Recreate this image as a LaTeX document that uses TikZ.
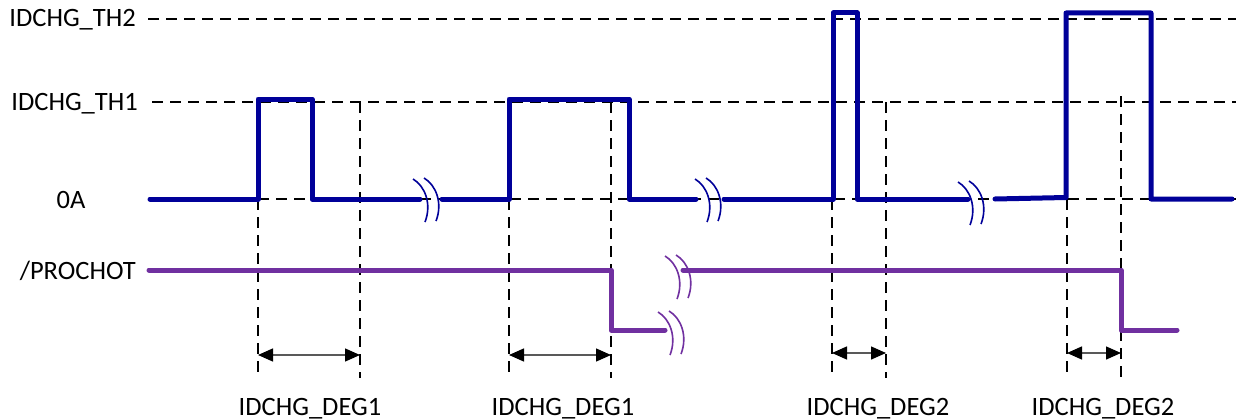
\documentclass[tikz,border=0pt]{standalone}
\usepackage{fontspec}
\setmainfont{Carlito}
\usetikzlibrary{arrows.meta}
\definecolor{wblue}{RGB}{0,0,153}
\definecolor{wpurple}{RGB}{112,48,160}
\begin{document}
\begin{tikzpicture}[x=1pt,y=-1pt,
 lbl/.style={font=\fontsize{26.5}{30}\selectfont, inner sep=0pt},
 guide/.style={black, line width=2pt, dash pattern=on 11pt off 7pt},
 bluewave/.style={wblue, line width=5pt, line join=round, line cap=round},
 purplewave/.style={wpurple, line width=5pt, line join=round, line cap=round},
 brkb/.style={wblue, line width=1.6pt},
 brkp/.style={wpurple, line width=1.6pt},
 dim/.style={black!65, line width=1.4pt, {Triangle[length=15pt,width=13pt,color=black]}-{Triangle[length=15pt,width=13pt,color=black]}},
 brk/.pic={\draw[pic actions] (-10,-21) .. controls (2,-14) and (9,4) .. (2,22);
           \draw[pic actions] (1,-22) .. controls (13,-15) and (20,3) .. (13,21);}]
\useasboundingbox (0,0) rectangle (1236,420);
% labels
\node[lbl, anchor=base east] (th2) at (136,27) {IDCHG\_TH2};
\node[lbl, anchor=base east] (th1) at (138,110) {IDCHG\_TH1};
\node[lbl, anchor=base] (zero) at (71,208) {0A};
\node[lbl, anchor=base east] (proc) at (136,279) {/PROCHOT};
\node[lbl, anchor=base] (deg1a) at (310,415) {IDCHG\_DEG1};
\node[lbl, anchor=base] (deg1b) at (563,415) {IDCHG\_DEG1};
\node[lbl, anchor=base] (deg2a) at (878,415) {IDCHG\_DEG2};
\node[lbl, anchor=base] (deg2b) at (1103,415) {IDCHG\_DEG2};
% horizontal guides
\draw[guide] (148,19) -- (1236,19);
\draw[guide] (152,102) -- (1236,102);
\draw[guide] (150,199) -- (1236,199);
% vertical guides
\draw[guide] (258,199) -- (258,378);
\draw[guide] (360,102) -- (360,378);
\draw[guide] (509,199) -- (509,378);
\draw[guide] (611,102) -- (611,378);
\draw[guide] (832,199) -- (832,378);
\draw[guide] (886,102) -- (886,378);
\draw[guide] (1067,199) -- (1067,378);
\draw[guide] (1121,96) -- (1121,378);
% blue waveform
\draw[bluewave] (150,199) -- (258,199) -- (258,99) -- (312,99) -- (312,199) -- (420,199);
\draw[bluewave] (442,199) -- (509,199) -- (509,99) -- (629,99) -- (629,199) -- (696,199);
\draw[bluewave] (724,199) -- (833,199) -- (833,13) -- (857,13) -- (857,199) -- (968,199);
\draw[bluewave] (995,199) -- (1066,197.5) -- (1066,13) -- (1151,13) -- (1151,199) -- (1232,199);
\pic[brkb] at (423,200) {brk};
\pic[brkb] at (705,200) {brk};
\pic[brkb] at (968,203) {brk};
% purple waveform
\draw[purplewave] (149,270) -- (611,270) -- (611,330) -- (665,330);
\draw[purplewave] (683,270) -- (1121,270) -- (1121,330) -- (1177,330);
\pic[brkp] at (675,277) {brk};
\pic[brkp] at (668,333) {brk};
% dimension arrows
\coordinate (a1) at (258,355); \coordinate (b1) at (360,355);
\coordinate (a2) at (509,355); \coordinate (b2) at (611,355);
\coordinate (a3) at (832,353); \coordinate (b3) at (886,353);
\coordinate (a4) at (1067,353); \coordinate (b4) at (1121,353);
\draw[dim] (a1) -- (b1);
\draw[dim] (a2) -- (b2);
\draw[dim] (a3) -- (b3);
\draw[dim] (a4) -- (b4);
\end{tikzpicture}
\end{document}
